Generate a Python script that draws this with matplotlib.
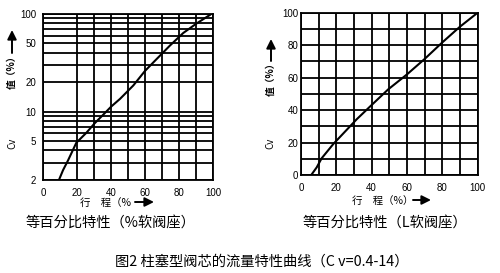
import matplotlib
matplotlib.use("Agg")
import matplotlib.pyplot as plt
from matplotlib.patches import FancyArrowPatch
from matplotlib.ticker import NullFormatter

plt.rcParams['font.family'] = ['Liberation Sans', 'DejaVu Sans']
CJK = ['Noto Sans CJK SC', 'DejaVu Sans']

# Left chart: log Cv vs travel
left_x = [9.4, 11.8, 14.7, 19.6, 25.5, 30.4, 35.3, 40.2, 45.3, 53.1, 60, 66.9, 74.7, 82.5, 90.4, 98.2]
left_y = [2.0, 2.52, 3.16, 4.8, 6.07, 7.6, 9.25, 11.3, 13.5, 18.5, 26.1, 34.6, 47.5, 63.8, 80, 97.7]
left_yticks = [2, 5, 10, 20, 50, 100]
left_xticks = [0, 20, 40, 60, 80, 100]

# Right chart: linear Cv vs travel
right_x = [5.8, 8.9, 11.7, 18.3, 24.9, 31.5, 39, 49.4, 60, 70, 80, 90, 100]
right_y = [0, 4.7, 10.3, 19.1, 26.7, 34.3, 42.1, 52.8, 62, 71.5, 81.7, 91.4, 100]
right_ticks = [0, 20, 40, 60, 80, 100]

left_title = "等百分比特性（%软阀座）"
right_title = "等百分比特性（L软阀座）"
fig_title = "图2 柱塞型阀芯的流量特性曲线（C v=0.4-14）"

fig = plt.figure(figsize=(5.0, 2.73), dpi=100)

grid_kw = dict(color='black', linewidth=1.3)

# ---- left axes
ax1 = fig.add_axes([0.086, 0.341, 0.340, 0.608])
ax1.set_yscale('log')
ax1.set_xlim(0, 100)
ax1.set_ylim(2, 100)
ax1.plot(left_x, left_y, color='black', linewidth=1.5)
ax1.set_xticks(left_xticks)
ax1.set_xticks([30, 50, 70, 90], minor=True)
ax1.set_yticks(left_yticks)
ax1.set_yticklabels([str(v) for v in left_yticks])
ax1.set_yticks([3, 4, 6, 7, 8, 9, 30, 40, 60, 70, 80, 90], minor=True)
ax1.yaxis.set_minor_formatter(NullFormatter())
ax1.grid(True, which='both', **grid_kw)
ax1.tick_params(which='both', length=0, labelsize=7, pad=5)
ax1.tick_params(axis='x', pad=6)

# ---- right axes
ax2 = fig.add_axes([0.602, 0.359, 0.353, 0.594])
ax2.set_xlim(0, 100)
ax2.set_ylim(0, 100)
ax2.plot(right_x, right_y, color='black', linewidth=1.5)
ax2.set_xticks(right_ticks)
ax2.set_yticks(right_ticks)
ax2.set_xticks(range(10, 100, 20), minor=True)
ax2.set_yticks(range(10, 100, 20), minor=True)
ax2.grid(True, which='both', **grid_kw)
ax2.tick_params(which='both', length=0, labelsize=7, pad=2)
ax2.tick_params(axis='x', pad=6)

for ax in (ax1, ax2):
    for s in ax.spines.values():
        s.set_linewidth(1.3)
        s.set_color('black')

def fx(px):
    return px / 500.0

def fy(py):
    return 1 - py / 273.0

arrow_kw = dict(arrowstyle='-|>,head_length=0.6,head_width=0.3', color='black',
                lw=1.4, mutation_scale=9, shrinkA=0, shrinkB=0)

def arrow(p0, p1):
    fig.add_artist(FancyArrowPatch((fx(p0[0]), fy(p0[1])), (fx(p1[0]), fy(p1[1])),
                                   transform=fig.transFigure, **arrow_kw))

# axis labels left
fig.text(fx(12), fy(143), "Cv", rotation=90, ha='center', va='center', fontsize=7, family=CJK)
fig.text(fx(12), fy(70), "值（%）", rotation=90, ha='center', va='center', fontsize=7, family=CJK, weight='bold')
arrow((12, 53), (12, 30))
# axis labels right
fig.text(fx(270), fy(143), "Cv", rotation=90, ha='center', va='center', fontsize=7, family=CJK)
fig.text(fx(271), fy(77), "值（%）", rotation=90, ha='center', va='center', fontsize=7, family=CJK, weight='bold')
arrow((271, 61), (271, 39))

# x labels
fig.text(fx(80), fy(203), "行　程（%", ha='left', va='center', fontsize=7.5, family=CJK)
arrow((135, 202), (154, 202))
fig.text(fx(352), fy(201), "行　程（%）", ha='left', va='center', fontsize=7.5, family=CJK)
arrow((413, 200), (431, 200))

# subtitles
fig.text(fx(111), fy(223), left_title, ha='center', va='center', fontsize=10.3, family=CJK)
fig.text(fx(385), fy(223), right_title, ha='center', va='center', fontsize=10.3, family=CJK)
fig.text(fx(262), fy(262), fig_title, ha='center', va='center', fontsize=10.3, family=CJK)

fig.savefig("out.png", dpi=100, facecolor='white')
